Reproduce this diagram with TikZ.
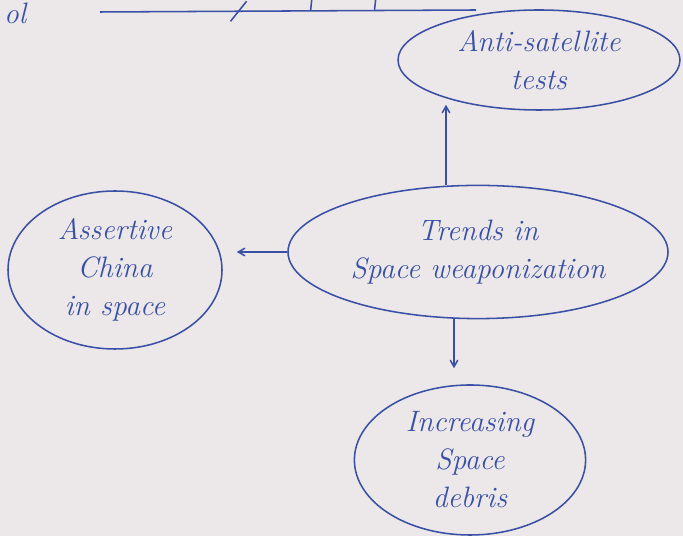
\documentclass[tikz,border=0pt]{standalone}
\usepackage{tikz}
\usetikzlibrary{arrows,shapes.geometric,positioning,calc}
\definecolor{ink}{RGB}{58,80,165}
\definecolor{paper}{RGB}{236,232,234}

\begin{document}
\begin{tikzpicture}[->,>=angle 60,line width=1.1pt,draw=ink,
bubble/.style={ellipse,draw=ink,text=ink,align=center,inner sep=0pt,
font=\fontsize{21}{27}\selectfont\itshape}]
\fill[paper] (0,0) rectangle (17.075,13.4);
\useasboundingbox (0,0) rectangle (17.075,13.4);
% the four bubbles
\node[bubble,minimum width=7.05cm,minimum height=2.5cm] (A) at (13.475,11.9) {Anti-satellite\\tests};
\node[bubble,minimum width=9.5cm,minimum height=3.33cm] (T) at (11.95,7.1) {Trends in\\Space weaponization};
\node[bubble,minimum width=5.35cm,minimum height=3.95cm] (C) at (2.875,6.65) {Assertive\\China\\in space};
\node[bubble,minimum width=5.78cm,minimum height=3.75cm] (D) at (11.75,1.9) {Increasing\\Space\\debris};
% line left over from the page above
\node[text=ink,anchor=north west,inner sep=1pt,font=\fontsize{21}{27}\selectfont\itshape] (ol) at (0.05,13.38) {ol};
\coordinate (la) at (2.5,13.1);
\coordinate (lb) at (11.9,13.15);
\draw[-] (la) -- (lb);
\draw[-] ($(la)!0.36!(lb)+(-0.12,-0.25)$) -- ++(0.4,0.5);
\draw[-] ($(la)!0.56!(lb)$) -- ++(0.03,0.28);
\draw[-] ($(la)!0.73!(lb)$) -- ++(0.03,0.28);
% arrows out of the centre bubble
\path ([xshift=-0.8cm]T.north) edge ([xshift=-0.8cm,yshift=0.15cm]T.north |- A.south)
(T.west) edge ([xshift=0.35cm]T.west -| C.east)
([xshift=-0.6cm]T.south) edge ([xshift=-0.6cm,yshift=0.4cm]T.south |- D.north);
\end{tikzpicture}
\end{document}
